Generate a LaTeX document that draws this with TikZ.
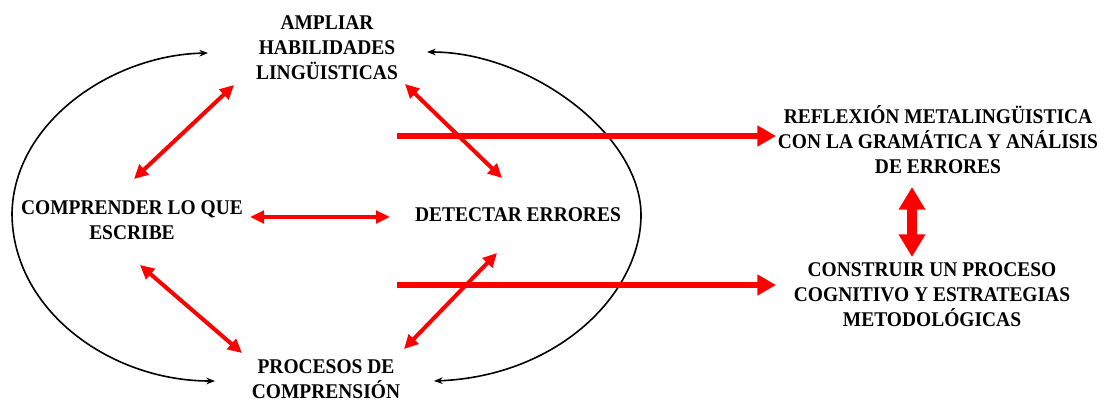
\documentclass[tikz,border=0pt]{standalone}
\usepackage{fontspec}
\setmainfont[FakeStretch=0.93]{Liberation Serif}
\usetikzlibrary{arrows.meta}
\begin{document}
\begin{tikzpicture}[x=0.75pt,y=-0.75pt,
  lbl/.style={align=center, font=\fontsize{15.7}{18.75}\selectfont\bfseries, inner sep=0pt},
  redarr/.style={draw=red, line width=3pt, {Triangle[length=10.5pt,width=10pt]}-{Triangle[length=10.5pt,width=10pt]}},
  redthin/.style={draw=red, line width=2.4pt, {Triangle[length=10.5pt,width=9.5pt]}-{Triangle[length=10.5pt,width=9.5pt]}},
  bigarr/.style={draw=red, line width=5pt, -{Triangle[length=14pt,width=15pt]}},
  vertarr/.style={draw=red, line width=7.5pt, {Triangle[length=17pt,width=19pt]}-{Triangle[length=17pt,width=19pt]}},
  arc/.style={draw=black, line width=1.2pt, -{Stealth[length=6.5pt,width=5pt]}}]
\useasboundingbox (0,0) rectangle (1109,401);

% text nodes
\node[lbl] (amp) at (327,48) {AMPLIAR\\HABILIDADES\\LINGÜISTICAS};
\node[lbl] (comp) at (132,220) {COMPRENDER LO QUE\\ESCRIBE};
\node[lbl] (det) at (518,215) {DETECTAR ERRORES};
\node[lbl] (proc) at (326,379) {PROCESOS DE\\COMPRENSIÓN};
\node[lbl] (refl) at (938,140) {REFLEXIÓN METALINGÜISTICA\\CON LA GRAMÁTICA Y ANÁLISIS\\DE ERRORES};
\node[lbl] (cons) at (932,295) {CONSTRUIR UN PROCESO\\COGNITIVO Y ESTRATEGIAS\\METODOLÓGICAS};

% ellipse arcs
\coordinate (eL) at (12,213);
\coordinate (eR) at (641,215);
\coordinate (tL) at (208,53);
\coordinate (tR) at (427,52);
\coordinate (bL) at (215,381);
\coordinate (bR) at (434,381);
\draw[arc] (eL) .. controls (14,122) and (112,55) .. (tL);
\draw[arc] (eR) .. controls (641,135) and (530,52) .. (tR);
\draw[arc] (eL) .. controls (12,310) and (110,381) .. (bL);
\draw[arc] (eR) .. controls (641,292) and (560,376) .. (bR);

% red connectors
\coordinate (a1) at (234,85);  \coordinate (c1) at (134,179);
\coordinate (a2) at (405,84);  \coordinate (d1) at (502,178);
\coordinate (c2) at (250,217); \coordinate (d2) at (390,217);
\coordinate (c3) at (140,265); \coordinate (p1) at (242,353);
\coordinate (d3) at (497,253); \coordinate (p2) at (404,349);
\draw[redarr] (a1) -- (c1);
\draw[redarr] (a2) -- (d1);
\draw[redthin] (c2) -- (d2);
\draw[redarr] (c3) -- (p1);
\draw[redarr] (d3) -- (p2);

\coordinate (h1s) at (397,136); \coordinate (h1e) at (776,136);
\coordinate (h2s) at (397,285); \coordinate (h2e) at (776,285);
\draw[bigarr] (h1s) -- (h1e);
\draw[bigarr] (h2s) -- (h2e);

\coordinate (v1) at (912,187); \coordinate (v2) at (912,257);
\draw[vertarr] (v1) -- (v2);
\end{tikzpicture}
\end{document}
